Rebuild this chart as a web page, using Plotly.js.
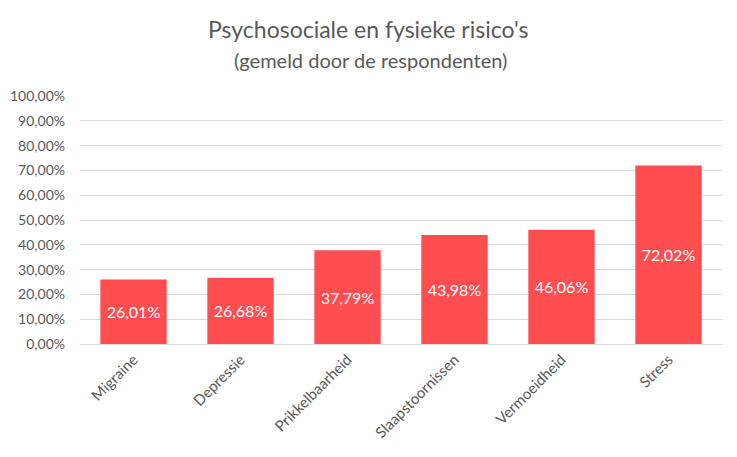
<!DOCTYPE html>
<html>
<head>
<meta charset="utf-8">
<script src="https://cdn.plot.ly/plotly-3.0.1.min.js"></script>
<style>html,body{margin:0;padding:0;background:#fff;}#chart{width:737px;height:457px;}</style>
</head>
<body>
<div id="chart"></div>
<script>
const categories = ["Migraine", "Depressie", "Prikkelbaarheid", "Slaapstoornissen", "Vermoeidheid", "Stress"];
const values = [26.01, 26.68, 37.79, 43.98, 46.06, 72.02];
const yTicks = [0, 10, 20, 30, 40, 50, 60, 70, 80, 90, 100];
const yTickText = ["0,00%", "10,00%", "20,00%", "30,00%", "40,00%", "50,00%", "60,00%", "70,00%", "80,00%", "90,00%", "100,00%"];
const titleText = "Psychosociale en fysieke risico's";
const subtitleText = "(gemeld door de respondenten)";

const FONT = "Lato, 'Open Sans', sans-serif";

const trace = {
  type: "bar",
  x: categories,
  y: values,
  marker: { color: "#FF4D50" },
  width: 0.62,
  texttemplate: "%{y:.2f}%",
  textposition: "inside",
  insidetextanchor: "middle",
  textangle: 0,
  insidetextfont: { color: "#FFFFFF", size: 16, family: FONT },
  hoverinfo: "none"
};

const layout = {
  width: 737,
  height: 457,
  separators: ",.",
  margin: { l: 80, r: 15, t: 96, b: 113 },
  paper_bgcolor: "#FFFFFF",
  plot_bgcolor: "#FFFFFF",
  font: { family: FONT, color: "#595959" },
  annotations: [
    {
      text: titleText,
      xref: "paper", yref: "paper",
      x: 0.449, y: 1.27,
      xanchor: "center", yanchor: "middle",
      showarrow: false,
      font: { size: 23, color: "#595959", family: FONT }
    },
    {
      text: subtitleText,
      xref: "paper", yref: "paper",
      x: 0.452, y: 1.145,
      xanchor: "center", yanchor: "middle",
      showarrow: false,
      font: { size: 20, color: "#595959", family: FONT }
    }
  ],
  showlegend: false,
  xaxis: {
    type: "category",
    tickangle: -45,
    tickfont: { size: 15, color: "#595959", family: FONT },
    showgrid: false,
    showline: true,
    linecolor: "#D9D9D9",
    linewidth: 1,
    ticks: "",
    fixedrange: true
  },
  yaxis: {
    range: [0, 100],
    tickvals: yTicks,
    ticktext: yTickText,
    tickfont: { size: 14, color: "#595959", family: FONT },
    showgrid: true,
    gridcolor: "#D9D9D9",
    gridwidth: 1,
    zeroline: false,
    showline: false,
    ticks: "",
    ticklabelstandoff: 14,
    fixedrange: true
  },
  bargap: 0.38
};

Plotly.newPlot("chart", [trace], layout, { displayModeBar: false, staticPlot: true });
</script>
</body>
</html>
